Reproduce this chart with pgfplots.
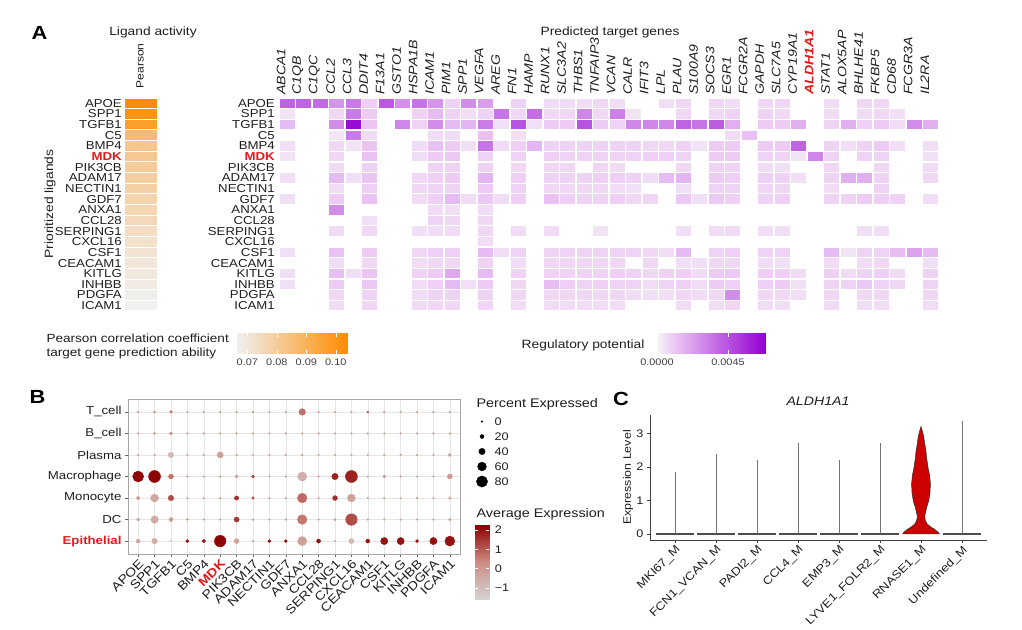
\documentclass[border=0pt]{standalone}
\usepackage{pgfplots}
\pgfplotsset{compat=1.18}
\usepackage{fontspec}
\setmainfont{Liberation Sans}[FakeStretch=1.15]
\newcommand\fs[1]{\fontsize{#1}{#1}\selectfont}
\definecolor{myred}{RGB}{228,26,28}
\definecolor{txt}{RGB}{30,30,30}
\definecolor{violinred}{RGB}{205,0,0}
\pgfdeclareplotmark{cellA}{\pgfpathrectangle{\pgfpoint{-16pt}{-4.8pt}}{\pgfpoint{32pt}{9.6pt}}\pgfusepathqfill}
\pgfdeclareplotmark{cellB}{\pgfpathrectangle{\pgfpoint{-7.4pt}{-4.7pt}}{\pgfpoint{14.8pt}{9.4pt}}\pgfusepathqfill}
\pgfplotsset{
  colormap={orng}{rgb255=(240,240,240) rgb255=(255,140,0)},
  colormap={purp}{rgb255(0cm)=(245,245,245) rgb255(1cm)=(238,204,245) rgb255(7cm)=(148,0,211)},
  colormap={redg}{rgb255=(211,211,211) rgb255=(205,140,130) rgb255=(139,0,0)},
  every axis/.append style={scale only axis, /pgf/number format/assume math mode=true},
}
\begin{document}
\begin{tikzpicture}[x=1pt,y=1pt]
\useasboundingbox (0,0) rectangle (1022,629);

% ---------------- Panel A texts
\node[font=\fs{19}\bfseries] at (39.5,596) {A};
\node[font=\fs{12}, text=txt] at (153,597) {Ligand activity};
\node[font=\fs{10.5}, text=txt, rotate=90, anchor=west] at (140,537) {Pearson};
\node[font=\fs{12}, text=txt, rotate=90] at (50,425) {Prioritized ligands};
\node[font=\fs{12}, text=txt] at (610,597) {Predicted target genes};
\node[font=\fs{11.8}, text=txt, anchor=west] at (43,291) {Pearson correlation coefficient};
\node[font=\fs{11.8}, text=txt, anchor=west] at (43,276) {target gene prediction ability};
\node[font=\fs{12}, text=txt, anchor=east] at (648,284) {Regulatory potential};

% ---------------- Pearson column
\begin{axis}[at={(125pt,318pt)}, anchor=south west, width=32pt, height=213pt,
  xmin=-0.5, xmax=0.5, ymin=-0.5, ymax=19.5, y dir=reverse,
  axis line style={draw=none}, tick style={draw=none}, major tick length=0pt,
  xtick=\empty, ytick={0,...,19},
  yticklabels={APOE,SPP1,TGFB1,C5,BMP4,\textcolor{myred}{\textbf{MDK}},PIK3CB,ADAM17,NECTIN1,GDF7,ANXA1,CCL28,SERPING1,CXCL16,CSF1,CEACAM1,KITLG,INHBB,PDGFA,ICAM1},
  yticklabel style={font=\fs{11.5}, text=txt, inner sep=0pt, xshift=-3pt},
  colormap name=orng, point meta min=0.0665, point meta max=0.1038, clip=false]
\addplot[scatter, only marks, mark=cellA, point meta=explicit, scatter/use mapped color={fill=mapped color, draw=mapped color}]
 table[x=x, y=y, meta=v, row sep=\\]{x y v\\
 0 0 0.1038\\ 0 1 0.1005\\ 0 2 0.0970\\ 0 3 0.0865\\ 0 4 0.0820\\ 0 5 0.0812\\ 0 6 0.0800\\ 0 7 0.0790\\ 0 8 0.0782\\ 0 9 0.0770\\
 0 10 0.0760\\ 0 11 0.0750\\ 0 12 0.0735\\ 0 13 0.0722\\ 0 14 0.0712\\ 0 15 0.0702\\ 0 16 0.0693\\ 0 17 0.0683\\ 0 18 0.0673\\ 0 19 0.0665\\};
\end{axis}

% ---------------- Main heatmap
\begin{axis}[at={(279pt,318pt)}, anchor=south west, width=660pt, height=213pt,
  xmin=-0.5, xmax=39.5, ymin=-0.5, ymax=19.5, y dir=reverse,
  axis line style={draw=none}, tick style={draw=none}, major tick length=0pt,
  xtick={0,...,39}, ytick={0,...,19}, xticklabel pos=upper,
  xticklabels={ABCA1,C1QB,C1QC,CCL2,CCL3,DDIT4,F13A1,GSTO1,HSPA1B,ICAM1,PIM1,SPP1,VEGFA,AREG,FN1,HAMP,RUNX1,SLC3A2,THBS1,TNFAIP3,VCAN,CALR,IFIT3,LPL,PLAU,S100A9,SOCS3,EGR1,FCGR2A,GAPDH,SLC7A5,CYP19A1,\textcolor{myred}{\textbf{ALDH1A1}},STAT1,ALOX5AP,BHLHE41,FKBP5,CD68,FCGR3A,IL2RA},
  xticklabel style={font=\fs{12.3}\itshape, text=txt, xshift=-6pt, rotate=90, anchor=west, inner xsep=3pt, inner ysep=0pt},
  yticklabels={APOE,SPP1,TGFB1,C5,BMP4,\textcolor{myred}{\textbf{MDK}},PIK3CB,ADAM17,NECTIN1,GDF7,ANXA1,CCL28,SERPING1,CXCL16,CSF1,CEACAM1,KITLG,INHBB,PDGFA,ICAM1},
  yticklabel style={font=\fs{11.5}, text=txt, inner sep=0pt, xshift=-4pt},
  colormap name=purp, point meta min=0, point meta max=0.00685, clip=false]
\addplot[scatter, only marks, mark=cellB, point meta=explicit, scatter/use mapped color={fill=mapped color, draw=mapped color}]
 table[x=x, y=y, meta=v, row sep=\\]{x y v\\
 0 0 0.0040\\ 1 0 0.0040\\ 2 0 0.0038\\ 3 0 0.0026\\ 4 0 0.0034\\ 5 0 0.0009\\ 6 0 0.0043\\ 7 0 0.0027\\ 8 0 0.0035\\ 9 0 0.0026\\ 10 0 0.0008\\ 11 0 0.0028\\ 12 0 0.0023\\ 14 0 0.0008\\ 16 0 0.0006\\ 17 0 0.0006\\ 18 0 0.0006\\ 19 0 0.0007\\ 20 0 0.0006\\ 23 0 0.0005\\ 24 0 0.0007\\ 26 0 0.0007\\ 27 0 0.0006\\ 29 0 0.0007\\ 30 0 0.0007\\ 33 0 0.0006\\ 35 0 0.0007\\ 36 0 0.0007\\
 0 1 0.0004\\ 3 1 0.0007\\ 4 1 0.0033\\ 5 1 0.0010\\ 8 1 0.0008\\ 9 1 0.0015\\ 10 1 0.0008\\ 11 1 0.0005\\ 12 1 0.0008\\ 13 1 0.0035\\ 14 1 0.0007\\ 15 1 0.0037\\ 16 1 0.0007\\ 17 1 0.0007\\ 18 1 0.0030\\ 19 1 0.0007\\ 20 1 0.0032\\ 21 1 0.0004\\ 24 1 0.0007\\ 26 1 0.0007\\ 27 1 0.0008\\ 29 1 0.0008\\ 30 1 0.0007\\ 33 1 0.0006\\ 35 1 0.0006\\ 36 1 0.0007\\ 37 1 0.0005\\
 0 2 0.0015\\ 3 2 0.0028\\ 4 2 0.0065\\ 5 2 0.0012\\ 7 2 0.0030\\ 8 2 0.0008\\ 9 2 0.0028\\ 10 2 0.0015\\ 11 2 0.0016\\ 12 2 0.0033\\ 13 2 0.0005\\ 14 2 0.0045\\ 15 2 0.0005\\ 16 2 0.0010\\ 17 2 0.0010\\ 18 2 0.0045\\ 19 2 0.0010\\ 20 2 0.0008\\ 21 2 0.0030\\ 22 2 0.0030\\ 23 2 0.0030\\ 24 2 0.0040\\ 25 2 0.0035\\ 26 2 0.0042\\ 27 2 0.0018\\ 29 2 0.0010\\ 30 2 0.0010\\ 31 2 0.0018\\ 33 2 0.0008\\ 34 2 0.0018\\ 35 2 0.0009\\ 36 2 0.0010\\ 37 2 0.0006\\ 38 2 0.0028\\ 39 2 0.0018\\
 3 3 0.0004\\ 4 3 0.0033\\ 5 3 0.0006\\ 9 3 0.0006\\ 10 3 0.0006\\ 12 3 0.0013\\ 14 3 0.0005\\ 27 3 0.0006\\ 28 3 0.0013\\
 0 4 0.0005\\ 3 4 0.0007\\ 4 4 0.0004\\ 5 4 0.0012\\ 8 4 0.0006\\ 9 4 0.0013\\ 10 4 0.0010\\ 11 4 0.0005\\ 12 4 0.0035\\ 13 4 0.0006\\ 14 4 0.0009\\ 15 4 0.0016\\ 16 4 0.0008\\ 17 4 0.0008\\ 18 4 0.0008\\ 19 4 0.0008\\ 20 4 0.0008\\ 21 4 0.0008\\ 22 4 0.0007\\ 23 4 0.0007\\ 24 4 0.0008\\ 25 4 0.0004\\ 26 4 0.0010\\ 27 4 0.0010\\ 29 4 0.0010\\ 30 4 0.0010\\ 31 4 0.0040\\ 33 4 0.0008\\ 34 4 0.0005\\ 35 4 0.0008\\ 36 4 0.0010\\ 37 4 0.0005\\ 39 4 0.0005\\
 0 5 0.0004\\ 3 5 0.0007\\ 5 5 0.0013\\ 8 5 0.0006\\ 9 5 0.0010\\ 10 5 0.0011\\ 12 5 0.0008\\ 14 5 0.0008\\ 16 5 0.0009\\ 17 5 0.0008\\ 18 5 0.0008\\ 19 5 0.0008\\ 20 5 0.0008\\ 21 5 0.0008\\ 22 5 0.0009\\ 23 5 0.0009\\ 24 5 0.0008\\ 26 5 0.0010\\ 27 5 0.0010\\ 29 5 0.0008\\ 30 5 0.0008\\ 31 5 0.0004\\ 32 5 0.0030\\ 33 5 0.0008\\ 35 5 0.0008\\ 36 5 0.0008\\ 39 5 0.0005\\
 3 6 0.0006\\ 5 6 0.0008\\ 9 6 0.0008\\ 10 6 0.0008\\ 12 6 0.0008\\ 14 6 0.0007\\ 16 6 0.0007\\ 17 6 0.0007\\ 19 6 0.0007\\ 20 6 0.0006\\ 24 6 0.0007\\ 26 6 0.0008\\ 27 6 0.0008\\ 29 6 0.0006\\ 30 6 0.0005\\ 33 6 0.0007\\ 36 6 0.0007\\ 39 6 0.0006\\
 0 7 0.0005\\ 3 7 0.0015\\ 4 7 0.0005\\ 5 7 0.0012\\ 8 7 0.0007\\ 9 7 0.0009\\ 10 7 0.0010\\ 12 7 0.0016\\ 14 7 0.0009\\ 16 7 0.0008\\ 17 7 0.0008\\ 18 7 0.0008\\ 19 7 0.0009\\ 20 7 0.0009\\ 21 7 0.0008\\ 22 7 0.0006\\ 23 7 0.0015\\ 24 7 0.0016\\ 26 7 0.0010\\ 27 7 0.0009\\ 29 7 0.0009\\ 30 7 0.0008\\ 31 7 0.0005\\ 33 7 0.0008\\ 34 7 0.0018\\ 35 7 0.0018\\ 36 7 0.0008\\ 39 7 0.0007\\
 3 8 0.0006\\ 5 8 0.0009\\ 8 8 0.0007\\ 9 8 0.0008\\ 10 8 0.0008\\ 12 8 0.0010\\ 14 8 0.0008\\ 16 8 0.0007\\ 17 8 0.0007\\ 18 8 0.0007\\ 19 8 0.0007\\ 20 8 0.0006\\ 21 8 0.0005\\ 24 8 0.0005\\ 26 8 0.0008\\ 27 8 0.0008\\ 29 8 0.0007\\ 30 8 0.0007\\ 33 8 0.0006\\ 36 8 0.0008\\
 0 9 0.0005\\ 3 9 0.0010\\ 5 9 0.0013\\ 8 9 0.0006\\ 9 9 0.0009\\ 10 9 0.0015\\ 11 9 0.0006\\ 12 9 0.0011\\ 13 9 0.0006\\ 14 9 0.0009\\ 16 9 0.0013\\ 17 9 0.0009\\ 18 9 0.0008\\ 19 9 0.0008\\ 20 9 0.0009\\ 21 9 0.0007\\ 22 9 0.0007\\ 24 9 0.0011\\ 25 9 0.0005\\ 26 9 0.0011\\ 27 9 0.0009\\ 29 9 0.0008\\ 30 9 0.0009\\ 33 9 0.0008\\ 34 9 0.0008\\ 35 9 0.0010\\ 36 9 0.0009\\ 37 9 0.0008\\ 39 9 0.0005\\
 3 10 0.0028\\ 9 10 0.0006\\ 10 10 0.0005\\ 12 10 0.0006\\
 5 11 0.0005\\ 9 11 0.0008\\ 10 11 0.0007\\ 12 11 0.0007\\
 3 12 0.0006\\ 5 12 0.0007\\ 8 12 0.0005\\ 9 12 0.0006\\ 10 12 0.0006\\ 12 12 0.0007\\ 14 12 0.0006\\ 16 12 0.0006\\ 19 12 0.0004\\ 24 12 0.0005\\ 26 12 0.0006\\ 27 12 0.0006\\ 29 12 0.0005\\ 30 12 0.0005\\ 35 12 0.0005\\ 36 12 0.0005\\
 12 13 0.0006\\
 0 14 0.0005\\ 3 14 0.0013\\ 5 14 0.0010\\ 8 14 0.0007\\ 9 14 0.0009\\ 10 14 0.0009\\ 12 14 0.0015\\ 13 14 0.0006\\ 14 14 0.0008\\ 16 14 0.0008\\ 17 14 0.0008\\ 18 14 0.0008\\ 19 14 0.0008\\ 20 14 0.0008\\ 21 14 0.0008\\ 22 14 0.0007\\ 23 14 0.0006\\ 24 14 0.0015\\ 26 14 0.0008\\ 27 14 0.0009\\ 29 14 0.0008\\ 30 14 0.0008\\ 33 14 0.0015\\ 34 14 0.0004\\ 35 14 0.0008\\ 36 14 0.0008\\ 37 14 0.0014\\ 38 14 0.0022\\ 39 14 0.0015\\
 3 15 0.0006\\ 5 15 0.0007\\ 8 15 0.0006\\ 9 15 0.0007\\ 10 15 0.0007\\ 12 15 0.0008\\ 14 15 0.0006\\ 16 15 0.0007\\ 17 15 0.0007\\ 18 15 0.0007\\ 19 15 0.0007\\ 20 15 0.0007\\ 22 15 0.0007\\ 24 15 0.0005\\ 25 15 0.0005\\ 26 15 0.0007\\ 27 15 0.0007\\ 29 15 0.0006\\ 30 15 0.0005\\ 33 15 0.0006\\ 35 15 0.0006\\ 36 15 0.0007\\ 39 15 0.0005\\
 0 16 0.0005\\ 3 16 0.0014\\ 4 16 0.0005\\ 5 16 0.0012\\ 8 16 0.0008\\ 9 16 0.0010\\ 10 16 0.0020\\ 12 16 0.0015\\ 14 16 0.0008\\ 16 16 0.0008\\ 17 16 0.0008\\ 18 16 0.0008\\ 19 16 0.0008\\ 20 16 0.0009\\ 21 16 0.0008\\ 22 16 0.0007\\ 23 16 0.0008\\ 24 16 0.0009\\ 25 16 0.0006\\ 26 16 0.0010\\ 27 16 0.0011\\ 29 16 0.0009\\ 30 16 0.0009\\ 31 16 0.0006\\ 33 16 0.0009\\ 34 16 0.0006\\ 35 16 0.0008\\ 36 16 0.0009\\ 37 16 0.0006\\ 39 16 0.0008\\
 0 17 0.0005\\ 3 17 0.0010\\ 5 17 0.0011\\ 8 17 0.0006\\ 9 17 0.0009\\ 10 17 0.0015\\ 11 17 0.0005\\ 12 17 0.0010\\ 14 17 0.0007\\ 16 17 0.0014\\ 17 17 0.0009\\ 18 17 0.0008\\ 19 17 0.0009\\ 20 17 0.0008\\ 21 17 0.0008\\ 22 17 0.0006\\ 23 17 0.0008\\ 24 17 0.0009\\ 25 17 0.0006\\ 26 17 0.0010\\ 27 17 0.0009\\ 29 17 0.0009\\ 30 17 0.0010\\ 31 17 0.0005\\ 33 17 0.0008\\ 34 17 0.0008\\ 35 17 0.0011\\ 36 17 0.0008\\ 37 17 0.0007\\ 39 17 0.0008\\
 3 18 0.0007\\ 5 18 0.0008\\ 8 18 0.0006\\ 9 18 0.0008\\ 10 18 0.0008\\ 12 18 0.0008\\ 14 18 0.0007\\ 16 18 0.0007\\ 17 18 0.0007\\ 18 18 0.0007\\ 19 18 0.0007\\ 20 18 0.0007\\ 21 18 0.0006\\ 22 18 0.0005\\ 23 18 0.0005\\ 24 18 0.0007\\ 25 18 0.0006\\ 26 18 0.0007\\ 27 18 0.0028\\ 29 18 0.0007\\ 30 18 0.0007\\ 31 18 0.0005\\ 33 18 0.0007\\ 35 18 0.0007\\ 36 18 0.0007\\ 39 18 0.0007\\
 3 19 0.0006\\ 5 19 0.0007\\ 8 19 0.0006\\ 9 19 0.0007\\ 10 19 0.0007\\ 12 19 0.0007\\ 14 19 0.0006\\ 16 19 0.0006\\ 17 19 0.0006\\ 18 19 0.0006\\ 19 19 0.0006\\ 20 19 0.0006\\ 24 19 0.0006\\ 26 19 0.0006\\ 27 19 0.0007\\ 29 19 0.0006\\ 30 19 0.0005\\ 33 19 0.0006\\ 35 19 0.0006\\ 36 19 0.0006\\ 39 19 0.0006\\};
\end{axis}

% ---------------- Colorbar Pearson
\begin{axis}[at={(237pt,275pt)}, anchor=south west, width=110pt, height=21pt,
  xmin=0.0665, xmax=0.1038, ymin=0, ymax=1, axis on top,
  axis line style={draw=none}, ytick=\empty, scaled x ticks=false,
  xtick={0.07,0.08,0.09,0.10}, xticklabels={0.07,0.08,0.09,0.10},
  xtick pos=both, xtick align=inside, major tick length=4pt, tick style={white, line width=0.5pt},
  xticklabel style={font=\fs{9.5}, text=black!75, yshift=-1pt},
  colormap name=orng, point meta min=0.0665, point meta max=0.1038]
\addplot[surf, shader=interp, point meta=x, mesh/cols=2] coordinates {(0.0665,0) (0.1038,0) (0.0665,1) (0.1038,1)};
\end{axis}

% ---------------- Colorbar regulatory
\begin{axis}[at={(657pt,275pt)}, anchor=south west, width=108pt, height=21pt,
  xmin=0, xmax=0.00685, ymin=0, ymax=1, axis on top,
  axis line style={draw=none}, ytick=\empty, scaled x ticks=false,
  xtick={0,0.0045}, xticklabels={0.0000,0.0045},
  xtick pos=both, xtick align=inside, major tick length=4pt, tick style={white, line width=0.5pt},
  xticklabel style={font=\fs{9.5}, text=black!75, yshift=-1pt},
  colormap name=purp, point meta min=0, point meta max=0.00685]
\addplot[surf, shader=interp, point meta=x, mesh/cols=3] coordinates {(0,0) (0.000979,0) (0.00685,0) (0,1) (0.000979,1) (0.00685,1)};
\end{axis}

% ---------------- Panel B
\node[font=\fs{19}\bfseries] at (37.5,232) {B};
\begin{axis}[at={(128pt,75pt)}, anchor=south west, width=332pt, height=155pt,
  xmin=-0.62, xmax=19.62, ymin=-0.6, ymax=6.6, y dir=reverse,
  xtick={0,...,19}, ytick={0,...,6},
  xticklabels={APOE,SPP1,TGFB1,C5,BMP4,\textcolor{myred}{\textbf{MDK}},PIK3CB,ADAM17,NECTIN1,GDF7,ANXA1,CCL28,SERPING1,CXCL16,CEACAM1,CSF1,KITLG,INHBB,PDGFA,ICAM1},
  yticklabels={T\_cell,B\_cell,Plasma,Macrophage,Monocyte,DC,\textcolor{myred}{\textbf{Epithelial}}},
  xticklabel style={font=\fs{12.3}, text=txt, rotate=45, anchor=north east, inner sep=1pt},
  yticklabel style={font=\fs{11.5}, text=txt},
  grid=major, grid style={black!10, line width=0.5pt},
  axis line style={black!35, line width=0.8pt},
  tick align=outside, tick pos=left, major tick length=3pt, tick style={black!60, line width=0.5pt},
  colormap name=redg, point meta min=-1.6, point meta max=2.26, clip=false]
\addplot[scatter, only marks, mark=*, point meta=explicit, scatter/use mapped color={fill=mapped color, draw=mapped color},
  visualization depends on={0.8+0.06*\thisrow{pct} \as \rr},
  scatter/@pre marker code/.append style={/tikz/mark size=\rr}]
 table[x=g, y=c, meta=avg, row sep=\\]{g c pct avg\\
 0 0 3 -0.4\\ 1 0 7 -0.2\\ 2 0 12 0.5\\ 3 0 1 -0.2\\ 4 0 1 -0.2\\ 5 0 1 -0.2\\ 6 0 3 -0.2\\ 7 0 2 0.0\\ 8 0 1 -0.2\\ 9 0 1 -0.2\\ 10 0 42 0.7\\ 11 0 2 -0.2\\ 12 0 1 -0.2\\ 13 0 1 -0.2\\ 14 0 3 1.0\\ 15 0 2 -0.2\\ 16 0 1 -0.2\\ 17 0 1 -0.2\\ 18 0 1 -0.2\\ 19 0 2 -0.2\\
 0 1 3 -0.4\\ 1 1 7 -0.2\\ 2 1 12 0.3\\ 3 1 1 -0.2\\ 4 1 1 -0.2\\ 5 1 1 -0.2\\ 6 1 2 -0.2\\ 7 1 2 -0.2\\ 8 1 1 -0.2\\ 9 1 1 -0.2\\ 10 1 2 -0.2\\ 11 1 1 -0.2\\ 12 1 1 -0.2\\ 13 1 1 -0.2\\ 14 1 1 -0.2\\ 15 1 1 -0.2\\ 16 1 1 -0.2\\ 17 1 1 -0.2\\ 18 1 1 -0.2\\ 19 1 3 -0.2\\
 0 2 2 -0.3\\ 1 2 2 -0.3\\ 2 2 33 -0.9\\ 3 2 1 -0.2\\ 4 2 1 -0.2\\ 5 2 37 -0.2\\ 6 2 3 -0.3\\ 7 2 7 -0.8\\ 8 2 1 -0.2\\ 9 2 1 -0.2\\ 10 2 3 -0.2\\ 11 2 1 -0.2\\ 12 2 1 -0.2\\ 13 2 1 -0.2\\ 14 2 1 -0.2\\ 15 2 1 -0.2\\ 16 2 1 -0.2\\ 17 2 1 -0.2\\ 18 2 1 -0.2\\ 19 2 13 -0.3\\
 0 3 78 2.2\\ 1 3 87 2.2\\ 2 3 28 0.7\\ 3 3 2 -0.3\\ 4 3 1 -0.2\\ 5 3 2 -0.2\\ 6 3 13 0.0\\ 7 3 12 1.2\\ 8 3 1 -0.2\\ 9 3 1 -0.2\\ 10 3 63 -0.6\\ 11 3 1 -0.2\\ 12 3 40 1.8\\ 13 3 87 1.8\\ 14 3 1 -0.2\\ 15 3 8 0.3\\ 16 3 1 -0.2\\ 17 3 1 -0.2\\ 18 3 1 -0.2\\ 19 3 28 0.0\\
 0 4 17 0.0\\ 1 4 53 -0.4\\ 2 4 33 1.2\\ 3 4 1 -0.2\\ 4 4 1 -0.2\\ 5 4 1 -0.2\\ 6 4 23 1.6\\ 7 4 10 1.2\\ 8 4 1 -0.2\\ 9 4 1 -0.2\\ 10 4 67 0.8\\ 11 4 1 -0.2\\ 12 4 28 1.6\\ 13 4 53 -0.3\\ 14 4 1 -0.2\\ 15 4 1 -0.2\\ 16 4 1 -0.2\\ 17 4 1 -0.2\\ 18 4 1 -0.2\\ 19 4 8 -0.2\\
 0 5 12 -0.2\\ 1 5 50 -0.5\\ 2 5 20 -0.1\\ 3 5 3 0.3\\ 4 5 1 -0.2\\ 5 5 1 -0.2\\ 6 5 30 1.5\\ 7 5 2 -0.2\\ 8 5 1 -0.2\\ 9 5 1 -0.2\\ 10 5 67 0.6\\ 11 5 1 -0.2\\ 12 5 7 -0.3\\ 13 5 83 1.2\\ 14 5 1 -0.2\\ 15 5 1 -0.2\\ 16 5 1 -0.2\\ 17 5 1 -0.2\\ 18 5 1 -0.2\\ 19 5 8 -0.2\\
 0 6 20 -0.4\\ 1 6 33 -0.5\\ 2 6 3 -1.3\\ 3 6 13 2.0\\ 4 6 17 2.0\\ 5 6 83 2.2\\ 6 6 28 -0.3\\ 7 6 2 -0.5\\ 8 6 13 2.0\\ 9 6 12 2.0\\ 10 6 63 -0.2\\ 11 6 20 2.0\\ 12 6 3 -0.5\\ 13 6 30 -0.8\\ 14 6 20 2.0\\ 15 6 47 2.0\\ 16 6 47 2.0\\ 17 6 13 2.0\\ 18 6 47 2.0\\ 19 6 70 2.0\\};
\end{axis}

% size legend
\node[font=\fs{12.5}, text=txt, anchor=west] at (473,225) {Percent Expressed};
\begin{axis}[at={(475pt,140pt)}, anchor=south west, width=14pt, height=75pt,
  xmin=-1, xmax=1, ymin=-0.5, ymax=4.5, y dir=reverse,
  axis line style={draw=none}, tick style={draw=none}, major tick length=0pt,
  xtick=\empty, ytick={0,...,4}, yticklabels={0,20,40,60,80}, yticklabel pos=right,
  yticklabel style={font=\fs{11}, text=txt, anchor=west, xshift=2pt}, clip=false]
\addplot[scatter, only marks, mark=*, scatter/use mapped color={fill=black, draw=black},
  visualization depends on={0.8+0.06*\thisrow{pct} \as \rr},
  scatter/@pre marker code/.append style={/tikz/mark size=\rr}]
 table[x=x, y=y, row sep=\\]{x y pct\\ 0 0 0\\ 0 1 20\\ 0 2 40\\ 0 3 60\\ 0 4 80\\};
\end{axis}

% avg expression colorbar
\node[font=\fs{12.5}, text=txt, anchor=west] at (473,115) {Average Expression};
\begin{axis}[at={(475pt,29.7pt)}, anchor=south west, width=14.3pt, height=74.3pt,
  xmin=0, xmax=1, ymin=-1.6, ymax=2.26, axis on top,
  axis line style={draw=none}, xtick=\empty,
  ytick={-1,0,1,2}, yticklabels={−1,0,1,2}, yticklabel pos=right,
  ytick pos=both, ytick align=inside, major tick length=3pt, tick style={white, line width=0.5pt},
  yticklabel style={font=\fs{11}, text=txt, xshift=2pt},
  colormap name=redg, point meta min=-1.6, point meta max=2.26]
\addplot[surf, shader=interp, point meta=y, mesh/cols=2] coordinates {(0,-1.6) (1,-1.6) (0,0.33) (1,0.33) (0,2.26) (1,2.26)};
\end{axis}

% ---------------- Panel C
\node[font=\fs{19}\bfseries] at (621,230) {C};
\node[font=\fs{12.3}\itshape, text=txt] at (818,228) {ALDH1A1};
\begin{axis}[at={(650pt,89pt)}, anchor=south west, width=337pt, height=125pt,
  xmin=0.39, xmax=8.61, ymin=-0.18, ymax=3.56,
  axis x line*=bottom, axis y line*=left, axis line style={black!75, line width=0.8pt},
  xtick={1,...,8}, ytick={0,1,2,3},
  xticklabels={MKI67\_M,FCN1\_VCAN\_M,PADI2\_M,CCL4\_M,EMP3\_M,LYVE1\_FOLR2\_M,RNASE1\_M,Undefined\_M},
  tick align=outside, major tick length=3pt, tick style={black!75, line width=0.6pt},
  xticklabel style={font=\fs{11.3}, text=txt, rotate=45, anchor=north east, inner sep=1pt},
  yticklabel style={font=\fs{11}, text=txt},
  ylabel={Expression Level}, ylabel style={font=\fs{10.8}, text=txt, at={(axis description cs:-0.065,0.5)}, anchor=center},
  clip=false]
% flat violins
\addplot[black!70, line width=1.3pt] coordinates {(0.54,0) (1.46,0)};
\addplot[black!70, line width=1.3pt] coordinates {(1.54,0) (2.46,0)};
\addplot[black!70, line width=1.3pt] coordinates {(2.54,0) (3.46,0)};
\addplot[black!70, line width=1.3pt] coordinates {(3.54,0) (4.46,0)};
\addplot[black!70, line width=1.3pt] coordinates {(4.54,0) (5.46,0)};
\addplot[black!70, line width=1.3pt] coordinates {(5.54,0) (6.46,0)};
\addplot[black!70, line width=1.3pt] coordinates {(7.54,0) (8.46,0)};
% vertical spikes
\addplot[black!55, line width=0.7pt] coordinates {(1,0) (1,1.85)};
\addplot[black!55, line width=0.7pt] coordinates {(2,0) (2,2.39)};
\addplot[black!55, line width=0.7pt] coordinates {(3,0) (3,2.22)};
\addplot[black!55, line width=0.7pt] coordinates {(4,0) (4,2.71)};
\addplot[black!55, line width=0.7pt] coordinates {(5,0) (5,2.22)};
\addplot[black!55, line width=0.7pt] coordinates {(6,0) (6,2.71)};
\addplot[black!55, line width=0.7pt] coordinates {(8,0) (8,3.38)};
% RNASE1 violin
\addplot[fill=violinred, draw=black!80, line width=0.5pt] coordinates {
 (6.55,0) (6.58,0.05) (6.63,0.1) (6.68,0.15) (6.75,0.2) (6.85,0.3) (6.89,0.4) (6.91,0.5) (6.90,0.6) (6.86,0.8) (6.81,1.0) (6.78,1.25) (6.77,1.5) (6.79,1.75) (6.83,2.0) (6.86,2.25) (6.88,2.5) (6.91,2.7) (6.93,2.9) (6.96,3.05) (7,3.22)
 (7.04,3.05) (7.07,2.9) (7.09,2.7) (7.12,2.5) (7.14,2.25) (7.17,2.0) (7.21,1.75) (7.23,1.5) (7.22,1.25) (7.19,1.0) (7.14,0.8) (7.10,0.6) (7.09,0.5) (7.11,0.4) (7.15,0.3) (7.25,0.2) (7.32,0.15) (7.37,0.1) (7.42,0.05) (7.45,0) (6.55,0)};
\end{axis}

\end{tikzpicture}
\end{document}
